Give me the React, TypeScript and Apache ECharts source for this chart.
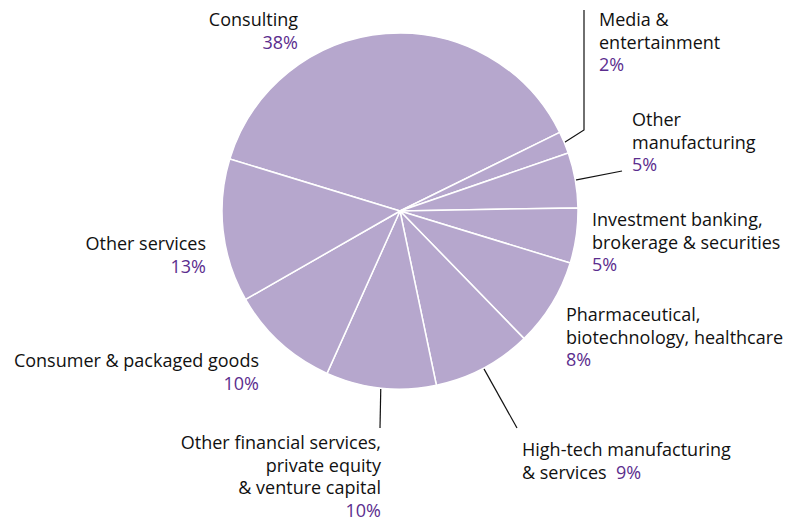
import React, { useEffect, useRef } from "react";
import * as echarts from "echarts";

const categories: string[] = [
  "Consulting",
  "Media &\nentertainment",
  "Other\nmanufacturing",
  "Investment banking,\nbrokerage & securities",
  "Pharmaceutical,\nbiotechnology, healthcare",
  "High-tech manufacturing\n& services",
  "Other financial services,\nprivate equity\n& venture capital",
  "Consumer & packaged goods",
  "Other services",
];
const shares: number[] = [38, 2, 5, 5, 8, 9, 10, 10, 13];

// label placement: anchor x, top y, alignment, optional leader-line bend/end points
type Place = { x: number; y: number; align: "left" | "right"; line?: number[][]; inline?: boolean };
const placement: Place[] = [
  { x: 298, y: 8, align: "right" },
  { x: 599, y: 8, align: "left", line: [[584, 130], [584, 10]] },
  { x: 632, y: 108, align: "left", line: [[622, 171], [622, 171]] },
  { x: 592, y: 208, align: "left" },
  { x: 566, y: 303, align: "left" },
  { x: 522, y: 438, align: "left", line: [[517, 428], [517, 428]], inline: true },
  { x: 381, y: 431, align: "right", line: [[380, 428], [380, 428]] },
  { x: 259, y: 349, align: "right" },
  { x: 206, y: 232, align: "right" },
];

const FONT = "'Open Sans', 'Noto Sans', sans-serif";

export default function App() {
  const ref = useRef<HTMLDivElement>(null);
  useEffect(() => {
    if (!ref.current) return;
    const chart = echarts.init(ref.current, null, { renderer: "svg" });
    const data = categories.map((name, i) => ({
      name,
      value: shares[i],
      labelLine: { show: !!placement[i].line },
    }));
    chart.setOption({
      animation: false,
      backgroundColor: "#ffffff",
      series: [
        {
          type: "pie",
          center: [400, 211],
          radius: 178,
          startAngle: 163,
          clockwise: true,
          avoidLabelOverlap: false,
          itemStyle: { color: "#b6a7cd", borderColor: "#ffffff", borderWidth: 1.5 },
          label: {
            show: true,
            position: "outside",
            formatter: (p: any) => {
              const lines = String(p.name).split("\n");
              if (placement[p.dataIndex].inline) {
                const last = lines.pop();
                return [...lines.map((l) => `{n|${l}}`), `{n|${last}  }{p|${p.value}%}`].join("\n");
              }
              return [...lines.map((l) => `{n|${l}}`), `{p|${p.value}%}`].join("\n");
            },
            rich: {
              n: { color: "#111111", fontSize: 18, lineHeight: 22.5, fontFamily: FONT },
              p: { color: "#5b2d8e", fontSize: 18, lineHeight: 22.5, fontFamily: FONT },
            },
          },
          labelLine: { lineStyle: { color: "#111111", width: 1.2 }, length: 10, length2: 10 },
          labelLayout: (params: any) => {
            const pl = placement[params.dataIndex];
            const res: any = { x: pl.x, y: pl.y, align: pl.align, verticalAlign: "top" };
            if (pl.line && params.labelLinePoints) {
              res.labelLinePoints = [params.labelLinePoints[0], ...pl.line];
            }
            return res;
          },
          data,
        },
      ],
    });
    return () => chart.dispose();
  }, []);
  return (
    <div
      ref={ref}
      style={{ position: "fixed", left: 0, top: 0, width: 787, height: 522 }}
    />
  );
}
